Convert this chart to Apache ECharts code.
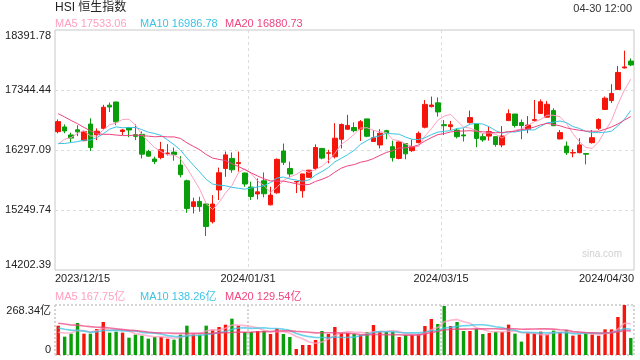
<!DOCTYPE html>
<html>
<head>
<meta charset="utf-8">
<script src="https://cdn.jsdelivr.net/npm/echarts@6/dist/echarts.min.js"></script>
<style>html,body{margin:0;padding:0;background:#fff;}#c{width:640px;height:360px;}</style>
</head>
<body>
<div id="c"></div>
<script>
const dates = ['2023/12/15','2023/12/18','2023/12/19','2023/12/20','2023/12/21','2023/12/22','2023/12/27','2023/12/28','2023/12/29','2024/01/02','2024/01/03','2024/01/04','2024/01/05','2024/01/08','2024/01/09','2024/01/10','2024/01/11','2024/01/12','2024/01/15','2024/01/16','2024/01/17','2024/01/18','2024/01/19','2024/01/22','2024/01/23','2024/01/24','2024/01/25','2024/01/26','2024/01/29','2024/01/30','2024/01/31','2024/02/01','2024/02/02','2024/02/05','2024/02/06','2024/02/07','2024/02/08','2024/02/09','2024/02/14','2024/02/15','2024/02/16','2024/02/19','2024/02/20','2024/02/21','2024/02/22','2024/02/23','2024/02/26','2024/02/27','2024/02/28','2024/02/29','2024/03/01','2024/03/04','2024/03/05','2024/03/06','2024/03/07','2024/03/08','2024/03/11','2024/03/12','2024/03/13','2024/03/14','2024/03/15','2024/03/18','2024/03/19','2024/03/20','2024/03/21','2024/03/22','2024/03/25','2024/03/26','2024/03/27','2024/03/28','2024/04/02','2024/04/03','2024/04/05','2024/04/08','2024/04/09','2024/04/10','2024/04/11','2024/04/12','2024/04/15','2024/04/16','2024/04/17','2024/04/18','2024/04/19','2024/04/22','2024/04/23','2024/04/24','2024/04/25','2024/04/26','2024/04/29','2024/04/30'];

const opens = [16617,16700,16560,16650,16460,16750,16565,16675,17080,17135,
 16620,16690,16565,16570,16270,16140,16165,16235,16260,16035,
 15760,15310,15400,15355,15045,15600,15975,16150,16060,15895,
 15650,15530,15760,15340,15550,16280,15975,15740,15585,15820,
 15975,16325,16240,16180,16485,16660,16690,16660,16840,16445,
 16385,16635,16355,16150,16410,16285,16425,16695,17055,17120,
 16740,16705,16645,16560,16775,16750,16530,16540,16530,16385,
 16810,16925,16775,16660,16810,16935,16870,16985,16490,16365,
 16245,16250,16235,16425,16675,17005,17160,17355,17730,17850];

const closes = [16792.19,16629.23,16505.00,16613.81,16621.23,16340.41,16624.84,17043.52,17047.39,16788.55,
 16645.98,16646.41,16535.33,16224.45,16190.02,16097.33,16302.01,16244.58,16216.33,15865.92,
 15276.90,15391.85,15308.69,14961.18,15353.98,15899.87,16211.96,15952.23,16077.24,15703.45,
 15485.07,15566.21,15533.56,15510.00,16133.95,16081.89,15878.07,15746.58,15879.38,15944.63,
 16339.97,16155.61,16247.51,16503.10,16742.91,16725.86,16634.74,16790.80,16536.85,16511.44,
 16589.44,16595.97,16162.64,16438.09,16229.78,16353.39,16587.94,17093.50,17082.11,16961.56,
 16720.89,16737.12,16529.48,16543.07,16863.10,16499.47,16473.64,16618.32,16392.84,16541.42,
 16931.52,16725.10,16723.92,16732.85,16828.07,17139.17,17095.03,16721.69,16600.46,16248.97,
 16251.84,16385.87,16224.14,16511.69,16828.93,17201.27,17284.54,17651.15,17746.91,17781.43];

const lows = [16590,16590,16425,16540,16450,16280,16470,16660,16960,16730,
 16560,16520,16470,16150,16180,16050,16135,16200,16110,15820,
 15200,15190,15220,14794.16,15015,15425,15830,15900,15920,15655,
 15425,15435,15470,15330,15535,16035,15820,15545,15465,15815,
 15945,16135,16065,16150,16325,16650,16605,16455,16520,16440,
 16325,16485,16095,16135,16135,16265,16415,16675,17040,16880,
 16560,16645,16500,16445,16760,16345,16440,16460,16355,16345,
 16805,16690,16485,16590,16795,16925,16865,16715,16485,16210,
 16170,16240,16045,16410,16645,16995,17120,17345,17720,17760];

const highs = [16830,16745,16600,16730,16635,16850,16675,17085,17125,17140,
 16665,16700,16745,16620,16300,16180,16440,16400,16340,16190,
 15780,15465,15480,15360,15510,15990,16270,16255,16270,15900,
 15745,15800,15905,15655,16150,16410,16095,15750,15880,15950,
 16395,16330,16300,16765,16760,16910,16780,16820,16840,16645,
 16660,16650,16460,16445,16415,16480,16620,17170,17230,17215,
 16820,16805,16675,16675,16985,16750,16590,16715,16530,16715,
 17005,16925,16830,16890,17170,17180,17150,17025,16645,16445,
 16310,16500,16245,16645,16850,17230,17445,17765,18031.16,17895];

// turnover in 亿
const volumes = [157.4,98.4,114.5,171.7,114.5,114.5,139.5,177.1,119.9,125.2,
 119.9,93.0,109.1,103.8,87.7,96.6,96.6,87.7,82.3,109.1,
 157.4,114.5,109.1,157.4,136.0,150.3,162.8,195.0,157.4,123.4,
 123.4,128.8,128.8,112.7,141.3,112.7,96.6,32.2,53.7,53.7,
 80.5,128.8,112.7,150.3,118.1,118.1,112.7,107.3,123.4,161.0,
 123.4,123.4,123.4,96.6,107.3,107.3,112.7,155.6,193.2,166.4,
 263.0,155.6,177.1,128.8,128.8,139.5,112.7,118.1,123.4,123.4,
 163.0,114.7,71.8,120.1,114.7,125.4,111.1,130.8,123.4,133.2,
 104.0,110.0,116.5,110.0,103.36,137.7,137.5,204.0,268.34,91.2];

// closes / volumes of the 19 sessions before the first candle (for the moving averages)
const priorCloses = [17778.07,17733.89,17734.60,17910.92,17559.42,17525.06,17354.14,17038.00,17042.88,16830.30,16646.11,16327.86,16463.05,16345.89,16334.37,16201.49,16374.50,16228.75,16402.19];
const priorVolumes = [180,210,190,200,185,205,195,190,200,195,170,160,175,165,170,120,105,115,113];

const priceTickLabels = ['14202.39','15249.74','16297.09','17344.44','18391.78'];
const priceMin = 14202.39, priceMax = 18391.78;
const xTickLabels = ['2023/12/15','2024/01/31','2024/03/15','2024/04/30'];
const priceLegend = ['MA5 17533.06','MA10 16986.78','MA20 16880.73'];
const volLegend = ['MA5 167.75亿','MA10 138.26亿','MA20 129.54亿'];
const titleText = 'HSI 恒生指数';
const timeText = '04-30 12:00';

const UP = '#f5150a', DOWN = '#0a9f0a';
const MA_COLORS = ['#ff9fc2', '#3cc4e4', '#ee4580'];
const FONT = 'Arial, "Liberation Sans", "Noto Sans CJK SC", sans-serif';

function ma(prior, vals, n) {
  const all = prior.concat(vals);
  const off = prior.length;
  return vals.map((_, i) => {
    let s = 0;
    for (let k = 0; k < n; k++) s += all[off + i - k];
    return +(s / n).toFixed(2);
  });
}

const candleData = dates.map((d, i) => [opens[i], closes[i], lows[i], highs[i]]);
const volData = volumes.map((v, i) => ({value: v, itemStyle: {color: closes[i] >= opens[i] ? UP : DOWN}}));
const volMax = Math.max(...volumes);

const chart = echarts.init(document.getElementById('c'), null, {renderer: 'canvas'});
const dash = {color: '#dcdcdc', type: [3, 3], width: 1};
const dots = {color: '#d4d4d4', type: [2, 2], width: 2};

const maSeries = [5, 10, 20].map((n, k) => ({
  type: 'line', name: 'MA' + n, xAxisIndex: 0, yAxisIndex: 0,
  data: ma(priorCloses, closes, n), symbol: 'none', silent: true,
  lineStyle: {color: MA_COLORS[k], width: 1}, z: 3
}));
const volMaSeries = [5, 10, 20].map((n, k) => ({
  type: 'line', name: 'VMA' + n, xAxisIndex: 2, yAxisIndex: 2,
  data: ma(priorVolumes, volumes, n), symbol: 'none', silent: true,
  lineStyle: {color: MA_COLORS[k], width: 1.6, opacity: 0.75}, z: 3
}));

const graphics = [
  {type: 'text', x: 55, y: 8, style: {text: titleText, fill: '#222', fontSize: 12, fontFamily: FONT, verticalAlign: 'middle'}},
  {type: 'text', x: 632, y: 9, style: {text: timeText, fill: '#333', fontSize: 11, fontFamily: FONT, align: 'right', verticalAlign: 'middle'}},
  {type: 'text', x: 622, y: 254, style: {text: 'sina.com', fill: '#d0d0d0', fontSize: 10, fontFamily: FONT, align: 'right', verticalAlign: 'middle'}}
];
[55, 140, 225].forEach((x, k) => {
  graphics.push({type: 'text', x: x, y: 24, style: {text: priceLegend[k], fill: MA_COLORS[k], fontSize: 11, fontFamily: FONT, verticalAlign: 'middle'}});
  graphics.push({type: 'text', x: x, y: 297, style: {text: volLegend[k], fill: MA_COLORS[k], fontSize: 11, fontFamily: FONT, verticalAlign: 'middle'}});
});

chart.setOption({
  animation: false,
  backgroundColor: '#fff',
  textStyle: {fontFamily: FONT},
  grid: [
    {left: 55, right: 6, top: 30, height: 240, show: true, borderColor: '#c8c8c8', borderWidth: 1},
    {left: 55, right: 6, top: 305, height: 50}
  ],
  xAxis: [
    {type: 'category', gridIndex: 0, data: dates, boundaryGap: true, show: false},
    {type: 'value', gridIndex: 0, min: 0, max: 90, interval: 30, position: 'bottom',
     axisLine: {show: false}, axisTick: {show: false},
     axisLabel: {show: true, color: '#222', fontSize: 11, margin: 3, alignMinLabel: 'left', alignMaxLabel: 'right',
                 formatter: v => xTickLabels[Math.round(v / 30)]},
     splitLine: {show: true, showMinLine: false, showMaxLine: false, lineStyle: dash}},
    {type: 'category', gridIndex: 1, data: dates, boundaryGap: true, show: false},
    {type: 'value', gridIndex: 1, min: 0, max: 90, interval: 30, position: 'bottom',
     axisLine: {show: false}, axisTick: {show: false}, axisLabel: {show: false},
     splitLine: {show: true, lineStyle: dots}}
  ],
  yAxis: [
    {type: 'value', gridIndex: 0, min: priceMin, max: priceMax, show: false},
    {type: 'value', gridIndex: 0, min: 0, max: 4, interval: 1, position: 'left',
     axisLine: {show: false}, axisTick: {show: false},
     axisLabel: {color: '#222', fontSize: 11, margin: 4, formatter: v => priceTickLabels[Math.round(v)],
                 verticalAlignMinLabel: 'bottom', verticalAlignMaxLabel: 'top'},
     splitLine: {show: true, showMinLine: false, showMaxLine: false, lineStyle: dash}},
    {type: 'value', gridIndex: 1, min: 0, max: volMax, interval: volMax, position: 'left',
     axisLine: {show: false}, axisTick: {show: false},
     axisLabel: {color: '#222', fontSize: 11, margin: 4, formatter: v => v === 0 ? '0' : v.toFixed(2) + '亿',
                 verticalAlignMinLabel: 'bottom', verticalAlignMaxLabel: 'top'},
     splitLine: {show: true, lineStyle: dots}}
  ],
  series: [
    {type: 'candlestick', xAxisIndex: 0, yAxisIndex: 0, data: candleData, barWidth: 5, z: 2,
     itemStyle: {color: UP, color0: DOWN, borderColor: UP, borderColor0: DOWN, borderWidth: 1}},
    ...maSeries,
    {type: 'bar', xAxisIndex: 2, yAxisIndex: 2, data: volData, barWidth: 3.4, z: 2},
    ...volMaSeries
  ],
  graphic: graphics
});
</script>
</body>
</html>
